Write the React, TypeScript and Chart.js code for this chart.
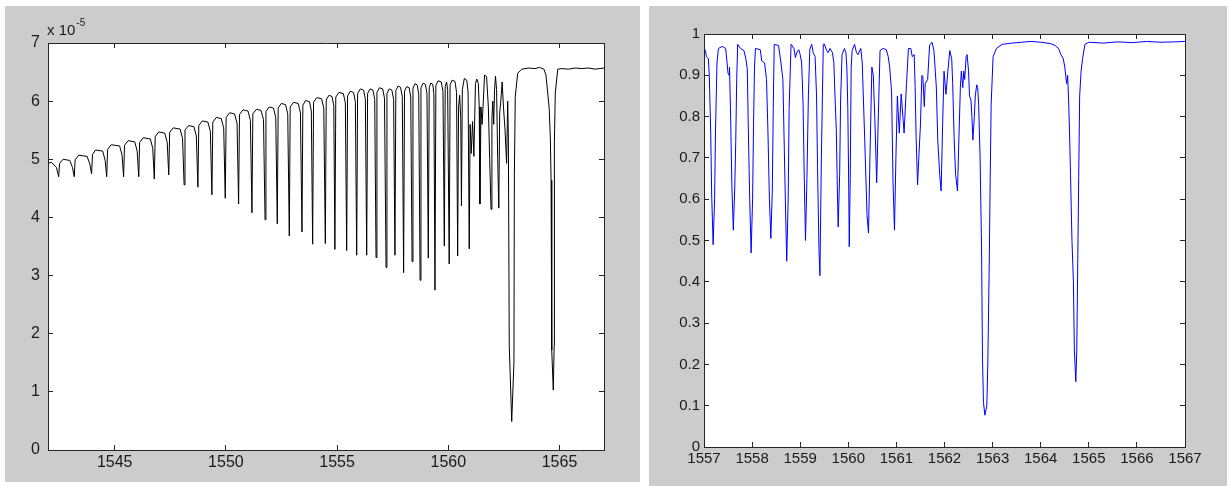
import React, { useEffect, useRef } from 'react';
import { Chart, registerables } from 'chart.js';

Chart.register(...registerables);

// ---------------- data ----------------
// Left panel: optical power (units of 1e-5) vs wavelength (nm)
const leftXTicks = [1545, 1550, 1555, 1560, 1565];
const leftYTicks = [0, 1, 2, 3, 4, 5, 6, 7];
const leftExponentLabel = ['x 10', '-5'];

const leftSpectrumA: [number, number][] = [
  [1542.00, 4.93], [1542.15, 4.95], [1542.38, 4.86], [1542.48, 4.70],
  [1542.52, 4.93], [1542.68, 5.00], [1542.98, 4.98], [1543.10, 4.86], [1543.18, 4.70],
  [1543.22, 4.99], [1543.38, 5.07], [1543.76, 5.05], [1543.88, 4.92], [1543.96, 4.75],
  [1544.00, 5.08], [1544.14, 5.16], [1544.46, 5.14], [1544.57, 4.98], [1544.64, 4.70],
  [1544.68, 5.17], [1544.84, 5.25], [1545.22, 5.23], [1545.33, 5.07], [1545.40, 4.70],
  [1545.44, 5.24], [1545.60, 5.32], [1545.90, 5.30], [1546.01, 5.14], [1546.08, 4.70],
  [1546.12, 5.29], [1546.28, 5.37], [1546.60, 5.35], [1546.71, 5.19], [1546.78, 4.66],
  [1546.82, 5.39], [1546.98, 5.47], [1547.25, 5.45], [1547.36, 5.29], [1547.43, 4.73],
  [1547.47, 5.46], [1547.63, 5.54], [1547.94, 5.52], [1548.05, 5.36], [1548.12, 4.56],
  [1548.16, 5.50], [1548.32, 5.58], [1548.56, 5.56], [1548.67, 5.40], [1548.74, 4.52],
  [1548.78, 5.58], [1548.94, 5.66], [1549.19, 5.64], [1549.30, 5.48], [1549.37, 4.39],
  [1549.41, 5.64], [1549.57, 5.72], [1549.79, 5.70], [1549.90, 5.54], [1549.97, 4.33],
];

const leftSpectrumB: [number, number][] = [
  [1550.01, 5.72], [1550.17, 5.80], [1550.39, 5.78], [1550.50, 5.62], [1550.57, 4.23],
  [1550.61, 5.77], [1550.77, 5.85], [1550.99, 5.83], [1551.10, 5.67], [1551.17, 4.08],
  [1551.21, 5.78], [1551.37, 5.86], [1551.58, 5.84], [1551.69, 5.68], [1551.76, 3.96],
  [1551.80, 5.82], [1551.95, 5.90], [1552.14, 5.88], [1552.24, 5.72], [1552.31, 3.89],
  [1552.35, 5.88], [1552.49, 5.96], [1552.68, 5.94], [1552.78, 5.78], [1552.85, 3.68],
  [1552.89, 5.90], [1553.04, 5.98], [1553.25, 5.96], [1553.35, 5.80], [1553.42, 3.75],
  [1553.46, 5.93], [1553.58, 6.01], [1553.76, 5.99], [1553.84, 5.83], [1553.90, 3.54],
  [1553.94, 5.98], [1554.08, 6.06], [1554.30, 6.04], [1554.40, 5.88], [1554.47, 3.55],
  [1554.51, 6.02], [1554.63, 6.10], [1554.77, 6.08], [1554.85, 5.92], [1554.90, 3.45],
  [1554.94, 6.07], [1555.08, 6.15], [1555.28, 6.13], [1555.37, 5.97], [1555.43, 3.43],
  [1555.47, 6.09], [1555.59, 6.17], [1555.74, 6.15], [1555.82, 5.99], [1555.88, 3.35],
  [1555.92, 6.13], [1556.04, 6.21], [1556.19, 6.19], [1556.27, 6.03], [1556.33, 3.35],
  [1556.37, 6.13], [1556.48, 6.21], [1556.61, 6.19], [1556.69, 6.03], [1556.75, 3.31],
  [1556.79, 6.15], [1556.90, 6.23],
];

const leftSpectrumC: [number, number][] = [
  [1557.05, 6.21], [1557.13, 6.05], [1557.20, 3.14],
  [1557.24, 6.13], [1557.34, 6.21], [1557.46, 6.19], [1557.54, 6.03], [1557.60, 3.35],
  [1557.64, 6.18], [1557.74, 6.26], [1557.85, 6.24], [1557.93, 6.08], [1557.99, 3.05],
  [1558.03, 6.17], [1558.13, 6.25], [1558.24, 6.23], [1558.31, 6.07], [1558.37, 3.24],
  [1558.41, 6.22], [1558.50, 6.30], [1558.60, 6.28], [1558.67, 6.12], [1558.73, 2.92],
  [1558.77, 6.23], [1558.87, 6.31], [1558.97, 6.29], [1559.04, 6.13], [1559.10, 3.30],
  [1559.14, 6.23], [1559.21, 6.31], [1559.30, 6.29], [1559.35, 6.13], [1559.40, 2.75],
  [1559.44, 6.27], [1559.54, 6.35], [1559.68, 6.33], [1559.76, 6.17], [1559.82, 3.51],
  [1559.86, 6.25], [1559.92, 6.33], [1559.97, 6.20], [1560.04, 3.20],
  [1560.08, 6.28], [1560.17, 6.36], [1560.30, 6.34], [1560.37, 6.15], [1560.42, 3.34],
  [1560.46, 5.90], [1560.51, 6.10], [1560.56, 5.70], [1560.59, 4.20],
  [1560.63, 6.20], [1560.72, 6.39], [1560.83, 6.36], [1560.89, 6.15], [1560.94, 3.46],
  [1560.98, 5.60], [1561.03, 5.10], [1561.09, 5.65], [1561.15, 5.05], [1561.22, 6.30],
  [1561.28, 6.38], [1561.35, 6.30], [1561.39, 5.90], [1561.42, 4.23],
  [1561.47, 5.90], [1561.52, 5.60], [1561.56, 5.90], [1561.63, 6.45], [1561.72, 6.42],
  [1561.80, 5.90], [1561.86, 5.00], [1561.92, 4.14],
  [1561.96, 5.70], [1562.00, 6.00], [1562.04, 5.60], [1562.08, 6.20], [1562.12, 6.43],
  [1562.17, 6.20], [1562.22, 5.00], [1562.27, 4.16],
  [1562.31, 5.80], [1562.36, 6.00], [1562.42, 6.33], [1562.48, 5.90], [1562.55, 5.50],
  [1562.62, 4.93], [1562.67, 6.00], [1562.70, 5.40], [1562.74, 1.80], [1562.85, 0.49],
  [1562.95, 1.50], [1562.97, 4.73], [1563.01, 6.08], [1563.12, 6.48], [1563.30, 6.55],
  [1563.60, 6.57], [1563.90, 6.56], [1564.10, 6.58], [1564.30, 6.55], [1564.39, 6.45],
  [1564.47, 6.14], [1564.54, 5.85], [1564.59, 5.33], [1564.62, 4.64], [1564.65, 1.72],
  [1564.72, 1.03], [1564.76, 1.80], [1564.77, 5.30], [1564.81, 6.14], [1564.92, 6.55],
  [1565.10, 6.56], [1565.40, 6.55], [1565.70, 6.57], [1566.00, 6.56], [1566.30, 6.57],
  [1566.60, 6.55], [1567.00, 6.57],
];

// Right panel: normalised transmission vs wavelength (nm)
const rightXTicks = [1557, 1558, 1559, 1560, 1561, 1562, 1563, 1564, 1565, 1566, 1567];
const rightYTicks = [0, 0.1, 0.2, 0.3, 0.4, 0.5, 0.6, 0.7, 0.8, 0.9, 1];

const rightSpectrumA: [number, number][] = [
  [1557.00, 0.965], [1557.03, 0.960], [1557.05, 0.945], [1557.09, 0.940], [1557.11, 0.900],
  [1557.14, 0.760], [1557.16, 0.610], [1557.19, 0.490], [1557.22, 0.600], [1557.24, 0.770],
  [1557.27, 0.930], [1557.30, 0.965], [1557.38, 0.970], [1557.45, 0.965], [1557.48, 0.930],
  [1557.50, 0.905], [1557.52, 0.900], [1557.53, 0.920], [1557.55, 0.820], [1557.58, 0.630],
  [1557.61, 0.525], [1557.64, 0.630], [1557.66, 0.740], [1557.68, 0.890], [1557.70, 0.975],
  [1557.76, 0.965], [1557.83, 0.960], [1557.87, 0.940], [1557.90, 0.915], [1557.92, 0.780],
  [1557.95, 0.600], [1557.98, 0.470], [1558.01, 0.600], [1558.03, 0.780], [1558.05, 0.920],
  [1558.07, 0.965], [1558.17, 0.962], [1558.20, 0.935], [1558.26, 0.930], [1558.30, 0.890],
  [1558.33, 0.760], [1558.36, 0.600], [1558.39, 0.505], [1558.42, 0.620], [1558.44, 0.820],
  [1558.46, 0.975], [1558.55, 0.972], [1558.60, 0.930], [1558.64, 0.890], [1558.67, 0.720],
  [1558.70, 0.550], [1558.72, 0.450], [1558.75, 0.600], [1558.77, 0.820], [1558.81, 0.975],
  [1558.87, 0.965], [1558.90, 0.943], [1558.93, 0.955], [1558.97, 0.962], [1559.00, 0.950],
  [1559.03, 0.930], [1559.06, 0.830], [1559.08, 0.680], [1559.11, 0.500], [1559.14, 0.650],
  [1559.17, 0.850], [1559.20, 0.963], [1559.24, 0.975], [1559.27, 0.955], [1559.31, 0.945],
  [1559.34, 0.850], [1559.36, 0.680], [1559.39, 0.480], [1559.41, 0.415], [1559.44, 0.700],
  [1559.48, 0.975], [1559.50, 0.976], [1559.55, 0.960], [1559.58, 0.955], [1559.62, 0.965],
  [1559.67, 0.955], [1559.70, 0.930], [1559.72, 0.860], [1559.75, 0.770], [1559.78, 0.580],
  [1559.79, 0.533], [1559.82, 0.660], [1559.84, 0.840], [1559.87, 0.950], [1559.92, 0.965],
];

const rightSpectrumB: [number, number][] = [
  [1559.95, 0.955], [1559.97, 0.920], [1559.99, 0.820], [1560.01, 0.620], [1560.02, 0.485],
  [1560.04, 0.650], [1560.06, 0.920], [1560.08, 0.960], [1560.13, 0.975], [1560.17, 0.955],
  [1560.20, 0.950], [1560.26, 0.965], [1560.29, 0.930], [1560.34, 0.750], [1560.39, 0.560],
  [1560.42, 0.518], [1560.45, 0.700], [1560.49, 0.920], [1560.52, 0.900], [1560.55, 0.800],
  [1560.59, 0.640], [1560.62, 0.780], [1560.66, 0.960], [1560.72, 0.965], [1560.79, 0.962],
  [1560.83, 0.945], [1560.86, 0.920], [1560.90, 0.860], [1560.93, 0.640], [1560.96, 0.525],
  [1560.99, 0.700], [1561.02, 0.850], [1561.06, 0.760], [1561.10, 0.855], [1561.16, 0.760],
  [1561.21, 0.880], [1561.25, 0.965], [1561.30, 0.965], [1561.33, 0.945], [1561.37, 0.950],
  [1561.39, 0.870], [1561.41, 0.750], [1561.44, 0.635], [1561.47, 0.710], [1561.50, 0.780],
  [1561.53, 0.900], [1561.55, 0.897], [1561.58, 0.824], [1561.60, 0.880], [1561.65, 0.890],
  [1561.69, 0.973], [1561.74, 0.980], [1561.78, 0.960], [1561.83, 0.872], [1561.86, 0.743],
  [1561.90, 0.660], [1561.93, 0.620], [1561.96, 0.776], [1561.99, 0.910], [1562.03, 0.854],
  [1562.07, 0.910], [1562.11, 0.960], [1562.15, 0.940], [1562.17, 0.880], [1562.20, 0.750],
  [1562.23, 0.660], [1562.27, 0.620], [1562.30, 0.750], [1562.33, 0.870], [1562.35, 0.910],
  [1562.38, 0.870], [1562.40, 0.910], [1562.42, 0.890], [1562.45, 0.945], [1562.47, 0.950],
  [1562.50, 0.910], [1562.52, 0.850], [1562.55, 0.840], [1562.57, 0.800], [1562.59, 0.743],
  [1562.62, 0.800], [1562.64, 0.850], [1562.67, 0.877], [1562.69, 0.870], [1562.71, 0.830],
];

const rightSpectrumC: [number, number][] = [
  [1562.74, 0.700], [1562.77, 0.485], [1562.79, 0.215], [1562.81, 0.108], [1562.84, 0.077],
  [1562.88, 0.100], [1562.90, 0.200], [1562.93, 0.440], [1562.95, 0.650], [1562.97, 0.830],
  [1563.01, 0.945], [1563.08, 0.965], [1563.20, 0.975], [1563.40, 0.978], [1563.60, 0.980],
  [1563.80, 0.982], [1564.00, 0.980], [1564.20, 0.977], [1564.30, 0.972], [1564.37, 0.965],
  [1564.42, 0.950], [1564.47, 0.940], [1564.50, 0.920], [1564.54, 0.880], [1564.56, 0.900],
  [1564.58, 0.840], [1564.60, 0.760], [1564.62, 0.660], [1564.65, 0.500], [1564.68, 0.400],
  [1564.70, 0.235], [1564.73, 0.158], [1564.75, 0.235], [1564.77, 0.445], [1564.79, 0.650],
  [1564.81, 0.850], [1564.84, 0.910], [1564.87, 0.940], [1564.92, 0.975], [1565.00, 0.980],
  [1565.30, 0.978], [1565.60, 0.981], [1565.90, 0.979], [1566.20, 0.982], [1566.50, 0.980],
  [1566.80, 0.981], [1567.00, 0.982],
];

// ---------------- styling ----------------
const FONT = "'Liberation Sans', Arial, Helvetica, sans-serif";
const AXIS_COLOR = '#262626';
const TEXT_COLOR = '#1a1a1a';
const PANEL_BG = '#cccccc';

type PanelCfg = {
  width: number;
  height: number;
  padTop: number;
  padRight: number;
  leftSize: number;
  bottomSize: number;
  xMin: number;
  xMax: number;
  yMin: number;
  yMax: number;
  xTicks: number[];
  yTicks: number[];
  fontSize: number;
  xPad: number;
  yPad: number;
  color: string;
  points: [number, number][];
  exponent?: string[];
};

function buildScales(c: PanelCfg) {
  const grid = {
    drawOnChartArea: false,
    drawTicks: true,
    tickLength: -5,
    color: AXIS_COLOR,
    lineWidth: 1,
  };
  const border = { display: true, color: AXIS_COLOR, width: 1 };
  const setTicks = (vals: number[]) => (scale: any) => {
    scale.ticks = vals.map((v) => ({ value: v }));
  };
  const font = { family: FONT, size: c.fontSize };
  return {
    x: {
      type: 'linear',
      position: 'bottom',
      min: c.xMin,
      max: c.xMax,
      afterBuildTicks: setTicks(c.xTicks),
      afterFit: (s: any) => { s.height = c.bottomSize; },
      grid,
      border,
      ticks: {
        autoSkip: false,
        maxRotation: 0,
        padding: c.xPad,
        color: TEXT_COLOR,
        font,
        callback: (v: any) => String(v),
      },
    },
    xTop: {
      type: 'linear',
      position: 'top',
      min: c.xMin,
      max: c.xMax,
      afterBuildTicks: setTicks(c.xTicks),
      afterFit: (s: any) => { s.height = 0; },
      grid,
      border,
      ticks: { display: false },
    },
    y: {
      type: 'linear',
      position: 'left',
      min: c.yMin,
      max: c.yMax,
      afterBuildTicks: setTicks(c.yTicks),
      afterFit: (s: any) => { s.width = c.leftSize; },
      grid,
      border,
      ticks: {
        autoSkip: false,
        padding: c.yPad,
        color: TEXT_COLOR,
        font,
        callback: (v: any) => String(v),
      },
    },
    yRight: {
      type: 'linear',
      position: 'right',
      min: c.yMin,
      max: c.yMax,
      afterBuildTicks: setTicks(c.yTicks),
      afterFit: (s: any) => { s.width = 0; },
      grid,
      border,
      ticks: { display: false },
    },
  };
}

function Panel({ cfg, left, top, bgHeight }: { cfg: PanelCfg; left: number; top: number; bgHeight: number }) {
  const ref = useRef<HTMLCanvasElement | null>(null);
  useEffect(() => {
    if (!ref.current) return;
    const plotBackground = {
      id: 'plotBackground',
      beforeDraw(chart: any) {
        const { ctx, chartArea } = chart;
        ctx.save();
        ctx.fillStyle = '#ffffff';
        ctx.fillRect(chartArea.left, chartArea.top, chartArea.right - chartArea.left, chartArea.bottom - chartArea.top);
        ctx.restore();
      },
    };
    const exponentPlugin = {
      id: 'exponentLabel',
      afterDraw(chart: any) {
        if (!cfg.exponent) return;
        const { ctx, chartArea } = chart;
        ctx.save();
        ctx.fillStyle = TEXT_COLOR;
        ctx.textBaseline = 'alphabetic';
        ctx.textAlign = 'left';
        ctx.font = `15px ${FONT}`;
        const x0 = chartArea.left - 1;
        const y0 = chartArea.top - 8;
        ctx.fillText(cfg.exponent[0], x0, y0);
        const w = ctx.measureText(cfg.exponent[0]).width;
        ctx.font = `10px ${FONT}`;
        ctx.fillText(cfg.exponent[1], x0 + w + 1, y0 - 9);
        ctx.restore();
      },
    };
    const chart = new Chart(ref.current, {
      type: 'line',
      data: {
        datasets: [
          {
            data: cfg.points.map(([x, y]) => ({ x, y })),
            borderColor: cfg.color,
            borderWidth: 1,
            pointRadius: 0,
            tension: 0,
            fill: false,
          },
        ],
      },
      options: {
        animation: false,
        responsive: false,
        maintainAspectRatio: false,
        parsing: false,
        layout: { padding: { top: cfg.padTop, right: cfg.padRight, left: 0, bottom: 0 } },
        plugins: { legend: { display: false }, tooltip: { enabled: false }, title: { display: false } },
        scales: buildScales(cfg) as any,
      } as any,
      plugins: [plotBackground, exponentPlugin],
    });
    return () => chart.destroy();
  }, [cfg]);
  return (
    <div
      style={{
        position: 'absolute',
        left,
        top,
        width: cfg.width,
        height: bgHeight,
        background: PANEL_BG,
      }}
    >
      <canvas ref={ref} width={cfg.width} height={cfg.height} style={{ display: 'block', width: cfg.width, height: cfg.height }} />
    </div>
  );
}

const leftCfg: PanelCfg = {
  width: 635,
  height: 476,
  padTop: 37,
  padRight: 36,
  leftSize: 43,
  bottomSize: 32,
  xMin: 1542,
  xMax: 1567,
  yMin: 0,
  yMax: 7,
  xTicks: leftXTicks,
  yTicks: leftYTicks,
  fontSize: 16,
  xPad: 8,
  yPad: 13,
  color: '#000000',
  points: [...leftSpectrumA, ...leftSpectrumB, ...leftSpectrumC],
  exponent: leftExponentLabel,
};

const rightCfg: PanelCfg = {
  width: 578,
  height: 480,
  padTop: 28,
  padRight: 42,
  leftSize: 55,
  bottomSize: 39,
  xMin: 1557,
  xMax: 1567,
  yMin: 0,
  yMax: 1,
  xTicks: rightXTicks,
  yTicks: rightYTicks,
  fontSize: 15,
  xPad: 8,
  yPad: 9,
  color: '#0000ff',
  points: [...rightSpectrumA, ...rightSpectrumB, ...rightSpectrumC],
};

export default function App() {
  return (
    <div style={{ position: 'absolute', left: 0, top: 0, width: 1229, height: 486, background: '#ffffff', overflow: 'hidden' }}>
      <Panel cfg={leftCfg} left={5} top={6} bgHeight={476} />
      <Panel cfg={rightCfg} left={649} top={6} bgHeight={480} />
    </div>
  );
}
